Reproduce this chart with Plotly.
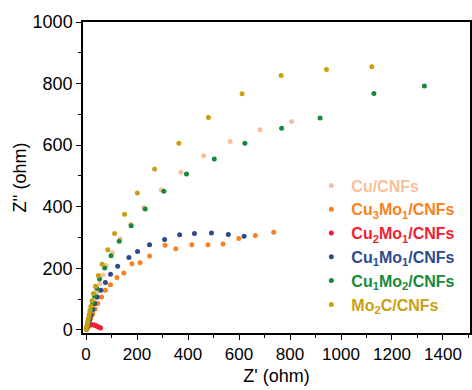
import plotly.graph_objects as go

# ---- data ----
names = ["Cu/CNFs", "Cu<sub>3</sub>Mo<sub>1</sub>/CNFs", "Cu<sub>2</sub>Mo<sub>1</sub>/CNFs",
         "Cu<sub>1</sub>Mo<sub>1</sub>/CNFs", "Cu<sub>1</sub>Mo<sub>2</sub>/CNFs", "Mo<sub>2</sub>C/CNFs"]
colors = ["#F9BF98", "#FB8020", "#F51E30", "#2D4B8C", "#178A3A", "#C9A012"]

cu_x = [2, 4, 6, 9, 12, 16, 21, 27, 34, 43, 54, 66, 79, 103, 134, 175, 227, 295, 372, 461, 565, 682, 806]
cu_y = [2, 7, 14, 24, 35, 48, 63, 80, 100, 123, 150, 178, 209, 251, 296, 343, 397, 455, 512, 566, 612, 650, 677]

cu3mo1_x = [2, 4, 7, 12, 18, 26, 35, 46, 61, 76, 96, 121, 148, 180, 212, 249, 310, 352, 415, 478, 537, 599, 664, 736]
cu3mo1_y = [2, 7, 15, 26, 38, 52, 68, 86, 107, 129, 147, 170, 185, 215, 218, 240, 275, 264, 277, 277, 279, 297, 307, 317]

cu2mo1_x = [2, 4, 7, 10, 14, 19, 25, 31, 37, 43, 48, 53, 57]
cu2mo1_y = [3, 7, 11, 14, 16, 17, 17, 16, 14, 12, 10, 8, 6]

cu1mo1_x = [2, 5, 9, 14, 20, 27, 34, 44, 58, 76, 96, 124, 168, 202, 249, 308, 367, 425, 492, 558, 620]
cu1mo1_y = [3, 10, 20, 33, 48, 66, 86, 107, 129, 154, 181, 207, 235, 255, 277, 294, 309, 313, 315, 310, 304]

cu1mo2_x = [1, 3, 6, 10, 15, 20, 26, 33, 42, 53, 73, 98, 130, 177, 232, 305, 394, 503, 623, 767, 918, 1129, 1327]
cu1mo2_y = [3, 9, 20, 34, 50, 68, 88, 110, 135, 165, 201, 241, 288, 338, 393, 450, 506, 555, 606, 655, 688, 768, 792]

mo2c_x = [1, 2, 3, 5, 7, 9, 12, 15, 19, 23, 29, 37, 48, 63, 85, 112, 151, 201, 269, 364, 480, 612, 765, 943, 1121]
mo2c_y = [2, 6, 11, 18, 27, 37, 49, 62, 77, 95, 118, 142, 177, 213, 260, 313, 376, 445, 523, 606, 690, 767, 826, 846, 855]

xs = [cu_x, cu3mo1_x, cu2mo1_x, cu1mo1_x, cu1mo2_x, mo2c_x]
ys = [cu_y, cu3mo1_y, cu2mo1_y, cu1mo1_y, cu1mo2_y, mo2c_y]

FONT = "Arial, Liberation Sans, sans-serif"

fig = go.Figure()
for n, c, x, y in zip(names, colors, xs, ys):
    fig.add_trace(go.Scatter(
        x=x, y=y, mode="markers",
        name=f"<b><span style='color:{c}'>{n}</span></b>",
        marker=dict(color=c, size=5, line=dict(width=0)),
    ))

axis_common = dict(
    showline=True, linecolor="black", linewidth=1.5, mirror=True,
    ticks="outside", ticklen=5, tickwidth=1.2, tickcolor="black",
    showgrid=False, zeroline=False,
)

fig.update_xaxes(
    range=[-12, 1506], dtick=200, tick0=0,
    minor=dict(ticks="outside", ticklen=3, dtick=100, tickcolor="black", tickwidth=1.2),
    tickfont=dict(family=FONT, size=17, color="black"),
    title=dict(text="Z' (ohm)", font=dict(family=FONT, size=18, color="black"), standoff=6),
    **axis_common,
)
fig.update_yaxes(
    range=[-10, 1000], dtick=200, tick0=0,
    minor=dict(ticks="outside", ticklen=3, dtick=100, tickcolor="black", tickwidth=1.2),
    tickfont=dict(family=FONT, size=18, color="black"),
    title=dict(text="Z'' (ohm)", font=dict(family=FONT, size=18, color="black"), standoff=1),
    **axis_common,
)

fig.update_layout(
    width=472, height=390,
    margin=dict(l=83, r=2, t=22, b=57, autoexpand=False),
    plot_bgcolor="white", paper_bgcolor="white",
    font=dict(family=FONT, color="black"),
    legend=dict(
        x=0.59, y=0.283, xanchor="left", yanchor="middle",
        bgcolor="rgba(0,0,0,0)", borderwidth=0,
        font=dict(family=FONT, size=16),
        itemsizing="trace",
    ),
)

fig.write_html("out.html")
